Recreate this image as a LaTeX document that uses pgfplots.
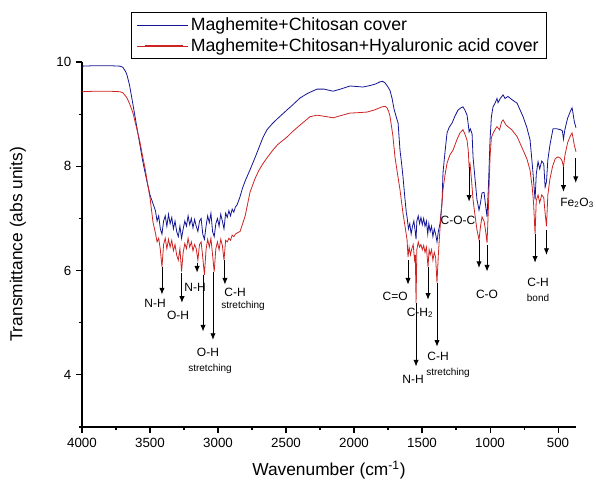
\documentclass[border=0pt]{standalone}
\usepackage{fontspec}
\setmainfont{Liberation Sans}
\usepackage{pgfplots}
\pgfplotsset{compat=1.18}
\usetikzlibrary{arrows.meta}
\definecolor{cblue}{RGB}{20,20,150}
\definecolor{cred}{RGB}{205,35,35}
\begin{document}
\begin{tikzpicture}
\begin{axis}[name=ax, scale only axis, width=370.5pt, height=273.75pt,
  x dir=reverse, xmin=368, xmax=4000, ymin=3, ymax=10,
  axis x line*=bottom, axis y line*=left,
  xtick={500,1000,...,4000}, minor xtick={750,1250,...,3750},
  ytick={4,6,8,10}, minor ytick={3,5,7,9},
  tick align=outside, major tick length=4.5pt, minor tick length=2.5pt,
  every tick/.style={black, line width=0.8pt},
  axis line style={line width=0.9pt},
  tick label style={font=\fontsize{10}{12}\selectfont},
  /pgf/number format/assume math mode=true,
  /pgf/number format/set thousands separator={},
  xlabel={Wavenumber (cm\textsuperscript{-1})},
  ylabel={Transmittance (abs units)},
  label style={font=\fontsize{13}{15}\selectfont},
  xlabel style={at={(axis description cs:0.5,-0.118)}, anchor=center},
  ylabel style={at={(axis description cs:-0.13,0.5)}, anchor=center},
  clip=false,
  legend style={at={(0.099,1.137)}, anchor=north west, draw=black, line width=0.6pt,
    font=\fontsize{13.3}{15}\selectfont, inner xsep=4pt, inner ysep=2pt, row sep=0.5pt},
  legend cell align=left,
  legend image code/.code={\path (0pt,0pt) -- (38pt,0pt);\draw[#1, line width=0.8pt] (6pt,0pt) -- (34.5pt,0pt);},
]
\addplot[cblue, line width=0.6pt] coordinates {
(4000,9.92)(3900,9.93)(3800,9.93)(3720,9.92)(3700,9.90)(3680,9.82)(3669,9.75)(3650,9.55)(3625,9.18)(3600,8.80)(3574,8.41)(3555,8.12)(3537,7.89)(3520,7.68)(3500,7.45)(3480,7.30)
(3460,7.15)(3448,6.95)(3436,7.05)(3424,6.80)(3412,6.70)(3400,6.95)(3388,7.05)(3376,6.85)(3364,7.08)(3352,6.90)(3340,7.02)(3328,6.80)(3316,6.95)(3304,6.75)(3292,6.65)(3280,6.85)(3268,6.62)(3256,6.80)(3244,6.95)(3232,6.85)(3220,7.05)(3208,6.88)(3196,7.00)(3184,6.82)(3172,6.98)(3160,6.85)(3148,6.75)(3136,6.95)(3124,7.00)(3112,6.70)(3100,6.60)(3088,6.85)(3076,7.05)(3064,6.92)(3052,7.10)(3040,6.75)(3028,6.65)(3016,6.90)(3004,7.00)(2992,6.85)(2980,7.08)(2968,6.95)(2956,6.80)(2944,7.10)(2932,7.02)(2920,7.15)(2908,7.05)(2896,7.18)(2884,7.12)(2872,7.22)(2860,7.26)
(2840,7.40)(2820,7.58)(2800,7.72)(2765,7.93)(2730,8.15)(2700,8.35)(2670,8.55)(2640,8.70)(2600,8.82)(2560,8.92)(2493,9.08)(2450,9.18)(2397,9.31)(2340,9.40)(2272,9.48)(2220,9.48)(2154,9.44)(2100,9.48)(2029,9.54)(1980,9.53)(1934,9.52)(1880,9.55)(1840,9.58)(1809,9.62)(1790,9.63)(1772,9.60)(1750,9.52)(1735,9.45)(1720,9.30)(1706,9.10)(1690,8.95)(1676,8.83)(1662,8.31)(1650,8.05)(1640,7.80)(1625,7.36)(1615,7.10)
(1610,7.03)(1600,6.80)(1590,6.90)(1580,6.70)(1570,6.85)(1560,6.95)(1550,6.75)(1544,6.60)(1538,6.95)(1528,7.05)(1518,6.90)(1508,7.02)(1498,6.88)(1488,7.00)(1478,6.85)(1468,6.95)(1458,6.70)(1450,6.90)(1440,6.75)(1430,6.85)(1420,6.65)(1410,6.80)(1400,6.70)(1390,6.55)(1380,6.75)(1368,6.90)
(1353,7.30)(1346,7.87)(1330,8.30)(1316,8.64)(1300,8.75)(1279,8.83)(1260,8.95)(1235,9.08)(1215,9.12)(1199,9.14)(1185,9.08)(1169,8.98)(1160,8.80)(1154,8.66)(1145,8.72)(1132,8.62)(1125,8.18)(1110,7.75)(1096,7.36)(1081,7.16)(1070,7.30)(1059,7.49)(1044,7.50)(1035,7.30)(1022,7.03)(1012,7.60)(1000,8.50)(990,8.95)(978,9.14)(963,9.21)(949,9.30)(941,9.22)(925,9.30)(904,9.37)(890,9.30)(868,9.34)(840,9.28)(801,9.21)(757,8.95)(730,8.75)(706,8.51)(695,8.20)(684,7.87)(669,7.36)(660,7.85)(647,8.09)(635,7.95)(620,8.10)(605,8.05)(595,7.60)(585,7.70)(575,8.12)(560,8.40)(537,8.72)(510,8.72)(480,8.70)(468,8.68)(460,8.52)(450,8.70)(430,8.92)(410,9.05)(397,9.12)(390,9.02)(380,8.85)(368,8.74)
};
\addlegendentry{Maghemite+Chitosan cover}
\addplot[cred, line width=0.6pt] coordinates {
(4000,9.43)(3900,9.44)(3800,9.44)(3720,9.43)(3700,9.41)(3680,9.35)(3669,9.31)(3650,9.20)(3625,9.02)(3600,8.75)(3574,8.47)(3555,8.20)(3537,7.97)(3520,7.70)(3500,7.40)(3478,6.93)
(3460,6.72)(3448,6.55)(3436,6.62)(3424,6.40)(3412,6.07)(3400,6.50)(3388,6.62)(3376,6.42)(3364,6.60)(3352,6.45)(3340,6.58)(3328,6.38)(3316,6.50)(3304,6.30)(3292,6.20)(3280,6.42)(3268,5.98)(3256,6.35)(3244,6.52)(3232,6.42)(3220,6.62)(3208,6.45)(3196,6.55)(3184,6.38)(3172,6.50)(3160,6.42)(3148,6.20)(3136,6.50)(3124,6.55)(3112,6.25)(3100,5.92)(3088,6.40)(3076,6.60)(3064,6.45)(3052,6.62)(3040,6.30)(3028,5.98)(3016,6.42)(3004,6.55)(2992,6.40)(2980,6.60)(2968,6.48)(2956,6.20)(2944,6.58)(2932,6.55)(2920,6.62)(2908,6.58)(2896,6.68)(2884,6.65)(2872,6.70)(2860,6.72)
(2838,6.75)(2800,7.05)(2765,7.50)(2730,7.75)(2700,7.92)(2670,8.05)(2640,8.16)(2600,8.30)(2560,8.42)(2493,8.56)(2450,8.67)(2397,8.79)(2324,8.95)(2272,8.98)(2220,8.96)(2154,8.93)(2100,8.97)(2029,9.02)(1960,9.03)(1904,9.04)(1850,9.08)(1794,9.14)(1770,9.15)(1757,9.12)(1745,9.05)(1735,8.95)(1715,8.60)(1699,8.18)(1680,7.85)(1662,7.55)(1640,7.10)(1625,6.85)
(1610,6.59)(1603,6.26)(1595,6.45)(1585,6.30)(1575,6.42)(1565,6.50)(1555,6.20)(1549,6.30)(1544,5.38)(1538,6.40)(1528,6.55)(1518,6.45)(1508,6.50)(1498,6.40)(1488,6.48)(1478,6.35)(1468,6.45)(1456,6.07)(1448,6.40)(1440,6.30)(1430,6.40)(1420,6.20)(1410,6.35)(1400,6.25)(1390,5.77)(1380,6.30)(1368,6.80)
(1346,7.55)(1330,7.85)(1316,8.06)(1295,8.22)(1272,8.31)(1245,8.50)(1221,8.64)(1199,8.70)(1185,8.62)(1169,8.50)(1160,8.30)(1154,8.00)(1147,8.05)(1135,7.70)(1125,7.36)(1110,7.05)(1096,6.78)(1081,6.59)(1070,6.85)(1059,7.03)(1044,6.95)(1032,6.75)(1022,6.53)(1012,7.20)(1000,8.18)(990,8.55)(978,8.63)(960,8.72)(949,8.76)(930,8.70)(915,8.85)(904,8.89)(885,8.80)(868,8.76)(840,8.70)(801,8.57)(757,8.31)(730,8.15)(706,7.93)(690,7.60)(680,7.30)(669,6.70)(660,7.35)(647,7.45)(635,7.30)(620,7.45)(605,7.40)(595,7.10)(585,6.85)(575,7.45)(560,7.75)(540,8.00)(520,8.15)(500,8.18)(480,8.15)(470,8.10)(460,7.99)(450,8.20)(430,8.45)(410,8.58)(397,8.64)(390,8.55)(380,8.40)(368,8.28)
};
\addlegendentry{Maghemite+Chitosan+Hyaluronic acid cover}
% annotation arrows
\begin{scope}[line width=0.7pt, -{Latex[length=5pt,width=4pt]}]
\draw (axis cs:3412,6.07) -- (axis cs:3412,5.54);
\draw (axis cs:3265,5.96) -- (axis cs:3265,5.38);
\draw (axis cs:3154,6.15) -- (axis cs:3154,5.96);
\draw (axis cs:3110,5.92) -- (axis cs:3110,4.83);
\draw (axis cs:3037,5.98) -- (axis cs:3037,4.67);
\draw (axis cs:2949,6.20) -- (axis cs:2949,5.73);
\draw (axis cs:1603,6.20) -- (axis cs:1603,5.73);
\draw (axis cs:1544,5.38) -- (axis cs:1544,4.16);
\draw (axis cs:1456,6.07) -- (axis cs:1456,5.44);
\draw (axis cs:1390,5.77) -- (axis cs:1390,4.54);
\draw (axis cs:1154,7.99) -- (axis cs:1154,7.32);
\draw (axis cs:1081,6.59) -- (axis cs:1081,6.05);
\draw (axis cs:1022,6.49) -- (axis cs:1022,5.98);
\draw (axis cs:669,6.70) -- (axis cs:669,6.15);
\draw (axis cs:585,6.78) -- (axis cs:585,6.30);
\draw (axis cs:460,7.99) -- (axis cs:460,7.51);
\draw (axis cs:370,8.16) -- (axis cs:370,7.68);
\end{scope}
\begin{scope}[every node/.style={font=\fontsize{9}{10}\selectfont, inner sep=0pt}]
\node at (axis cs:3463,5.38) {N-H};
\node at (axis cs:3294,5.15) {O-H};
\node at (axis cs:3169,5.67) {N-H};
\node at (axis cs:3074,4.44) {O-H};
\node at (axis cs:2875,5.59) {C-H};
\node at (axis cs:1698,5.50) {C=O};
\node at (axis cs:1515,5.19) {C-H\textsubscript{2}};
\node at (axis cs:1566,3.91) {N-H};
\node at (axis cs:1382,4.35) {C-H};
\node at (axis cs:1235,6.97) {C-O-C};
\node at (axis cs:1022,5.54) {C-O};
\node at (axis cs:647,5.77) {C-H};
\node at (axis cs:360,7.30) {Fe\textsubscript{2}O\textsubscript{3}};
\end{scope}
\begin{scope}[every node/.style={font=\fontsize{7.5}{9}\selectfont, inner sep=0pt}]
\node at (axis cs:3059,4.12) {stretching};
\node at (axis cs:2816,5.33) {stretching};
\node at (axis cs:1309,4.04) {stretching};
\node at (axis cs:647,5.48) {bond};
\end{scope}
\end{axis}
\pgfresetboundingbox
\path ([xshift=-61.5pt,yshift=-44.25pt]ax.south west) rectangle ([xshift=15pt,yshift=46.5pt]ax.north east);
\end{tikzpicture}
\end{document}
